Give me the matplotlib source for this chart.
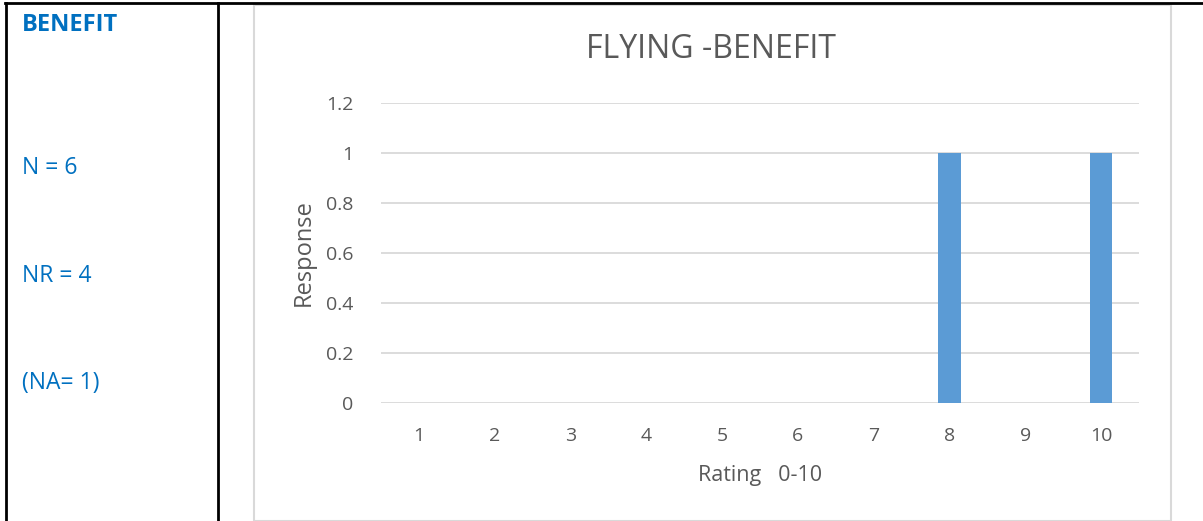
import matplotlib
matplotlib.use('Agg')
import matplotlib.pyplot as plt
from matplotlib.lines import Line2D
from matplotlib.patches import Rectangle

plt.rcParams['font.family'] = ['Open Sans', 'DejaVu Sans']

ratings = ['1', '2', '3', '4', '5', '6', '7', '8', '9', '10']
responses = [0, 0, 0, 0, 0, 0, 0, 1, 0, 1]
side_labels = ['N = 6', 'NR = 4', '(NA= 1)']
side_y = [168, 276, 383]

W, H = 1203, 521
fig = plt.figure(figsize=(W / 100, H / 100), dpi=100)

def fx(px):
    return px / W

def fy(py):
    return 1 - py / H

# table lines
fig.add_artist(Line2D([fx(5), 1], [fy(3), fy(3)], color='black', lw=2))
fig.add_artist(Line2D([fx(6), fx(6)], [fy(3), 0], color='black', lw=2))
fig.add_artist(Line2D([fx(218), fx(218)], [fy(3), 0], color='black', lw=2))

# chart frame
fig.add_artist(Rectangle((fx(254), fy(521)), fx(1171) - fx(254), fy(5) - fy(521),
                         fill=False, edgecolor='#D9D9D9', lw=1.5))

blue = '#0070C0'
fig.text(fx(22), fy(25), 'BENEFIT', color=blue, fontsize=17, fontweight='bold', va='center')
for lab, y in zip(side_labels, side_y):
    fig.text(fx(22), fy(y), lab, color=blue, fontsize=16.5, va='center')

ax = fig.add_axes([fx(381), fy(403), fx(1139) - fx(381), fy(103) - fy(403)])
x = range(len(ratings))
ax.bar(x, responses, width=0.3, color='#5B9BD5', zorder=3)
ax.set_xlim(-0.5, len(ratings) - 0.5)
ax.set_ylim(0, 1.2)
ax.set_yticks([0, 0.2, 0.4, 0.6, 0.8, 1, 1.2])
ax.set_yticklabels(['0', '0.2', '0.4', '0.6', '0.8', '1', '1.2'])
ax.set_xticks(list(x))
ax.set_xticklabels(ratings)
ax.yaxis.grid(True, color='#D9D9D9', lw=1.3, zorder=0)
for s in ax.spines.values():
    s.set_visible(False)
ax.tick_params(length=0, labelsize=14, colors='#595959')
ax.tick_params(axis='y', pad=20)
ax.tick_params(axis='x', pad=17)
ax.set_ylabel('Response', fontsize=17, color='#595959', labelpad=7)
ax.set_xlabel('Rating   0-10', fontsize=15.5, color='#595959', labelpad=15)

fig.text(fx(711), fy(50), 'FLYING -BENEFIT', fontsize=23, color='#595959', ha='center', va='center')

fig.savefig('out.png', dpi=100)
